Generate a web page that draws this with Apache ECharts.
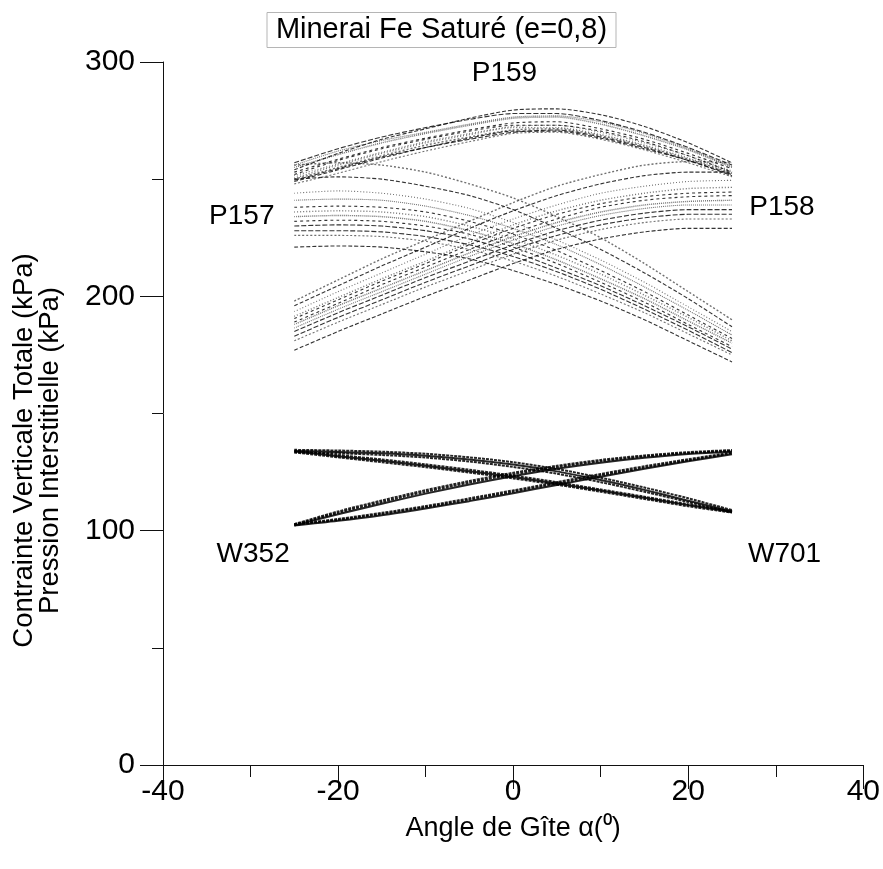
<!DOCTYPE html>
<html>
<head>
<meta charset="utf-8">
<script src="https://cdn.jsdelivr.net/npm/echarts@6/dist/echarts.min.js"></script>
<style>
html,body{margin:0;padding:0;background:#fff;}
#chart{width:883px;height:869px;}
</style>
</head>
<body>
<div id="chart"></div>
<script>
// ---- Data ----
const ANGLES = [-25, -20, -15, -10, -5, 0, 5, 10, 15, 20, 25];

// P159 : total vertical stress, top arch
const P159_A = [250, 255, 260, 264.5, 268, 271, 271.5, 268.5, 264, 258.5, 252.5];
const P159_B = [249, 254, 259, 263.5, 267.5, 270.5, 270.5, 267.5, 263, 258, 252];
const P159_C = [251.5, 256.5, 261.5, 266, 269.5, 272.5, 273, 270, 265.5, 260, 253.5];
const P159_D = [253, 258.5, 263.5, 267.5, 271, 274, 274.5, 271.5, 267, 261, 254.5];
const P159_E = [255, 260.5, 265.5, 269.5, 273, 276, 276.5, 273.5, 268.5, 262.5, 255];
const P159_F = [257, 263, 268, 272, 275.5, 278, 278, 275, 270, 263.5, 256];
const P159_G = [248, 252.5, 257.5, 262, 266, 269.5, 270, 267, 262.5, 257, 251];
const P159_H = [254, 261, 267, 271.5, 276, 279.5, 280, 277.5, 272.5, 265.5, 257];
const P159_I = [250.5, 256, 261, 265.5, 269, 272, 272, 269, 264.5, 259, 253];
const P159_J = [252, 258, 263, 267, 270.5, 273, 273, 270.5, 266, 260, 253];
const P159_K = [256, 262, 266.5, 270, 273.5, 276.5, 277, 274.5, 269.5, 263, 255.5];
const P159_L = [249.5, 254.5, 259.5, 263.5, 267, 270, 271, 268, 263.5, 258, 251.5];

// P157 : decreasing with angle
const P157_A = [256, 257, 256, 253, 248, 242, 234, 225, 214, 202, 190];
const P157_B = [250, 251, 250, 247, 243, 237, 229, 220, 210, 199, 187];
const P157_C = [244, 245, 244, 241.5, 237.5, 231.5, 224, 215.5, 206, 195.5, 185];
const P157_D = [238, 238.5, 238, 236, 232, 226.5, 219.5, 211, 202, 192, 182];
const P157_E = [234, 234.5, 234, 232, 228, 222.5, 215.5, 207.5, 199, 189.5, 180];
const P157_F = [230, 230.5, 230, 228, 224.5, 219, 212, 204.5, 196, 187, 177.5];
const P157_G = [226, 226, 225.5, 223.5, 220, 215, 208.5, 201, 193, 184, 175];
const P157_H = [221, 221.5, 221, 219, 216, 211, 205, 198, 190, 181, 172];
const P157_I = [236, 236.5, 236, 234, 230, 224.5, 217.5, 209.5, 200.5, 191, 181];
const P157_J = [232, 232.5, 232, 230, 226.5, 221, 214, 206, 197.5, 188, 178.5];
const P157_K = [241, 241.5, 241, 238.5, 234.5, 229, 222, 213.5, 204, 194, 183.5];
const P157_L = [228, 228, 227.5, 225.5, 222, 217, 210.5, 203, 194.5, 185.5, 176];

// P158 : increasing with angle
const P158_A = [198, 207, 216, 224, 232, 240, 247, 252, 256, 257.5, 257];
const P158_B = [196, 204.5, 213, 221, 229, 236.5, 243, 248, 251.5, 253, 253];
const P158_C = [193.5, 202, 210, 218, 226, 233, 239, 244, 247, 249, 249.5];
const P158_D = [190.5, 198.5, 206.5, 214, 222, 229, 235, 239.5, 242.5, 244, 244.5];
const P158_E = [188, 196, 203.5, 211, 218.5, 225.5, 231.5, 236, 239, 240.5, 241];
const P158_F = [185, 193, 200.5, 208, 215, 222, 228, 232.5, 235.5, 237, 237];
const P158_G = [181, 189, 196.5, 204, 211, 218, 224, 228.5, 231.5, 233, 233];
const P158_H = [177, 185, 192.5, 200, 207, 214, 220, 224.5, 227.5, 229, 229];
const P158_I = [191.5, 199.5, 207.5, 215, 223, 230.5, 236.5, 241, 244, 246, 246.5];
const P158_J = [189, 197, 205, 212.5, 220, 227, 233, 238, 241, 242.5, 243];
const P158_K = [186.5, 194.5, 202, 209.5, 217, 224, 230, 234.5, 237.5, 239, 239];
const P158_L = [183, 191, 198.5, 206, 213, 220, 226, 230.5, 233.5, 235, 235];

// W701 : pore pressure, decreasing (two branches)
const W701_A1 = [134.5, 134.2, 133.7, 132.8, 131.3, 129.2, 126.3, 122.6, 118.4, 113.8, 108.8];
const W701_A2 = [134, 133.6, 133, 132, 130.4, 128.2, 125.3, 121.6, 117.4, 112.8, 108.2];
const W701_A3 = [133.5, 133, 132.3, 131.2, 129.5, 127.2, 124.3, 120.7, 116.6, 112.2, 107.8];
const W701_B1 = [134.2, 132.3, 130.4, 128.3, 126, 123.5, 120.7, 117.6, 114.5, 111.3, 108.4];
const W701_B2 = [133.8, 131.8, 129.8, 127.7, 125.4, 122.9, 120.1, 117.1, 114, 110.9, 108];
const W701_B3 = [133.4, 131.3, 129.2, 127.1, 124.8, 122.3, 119.6, 116.6, 113.5, 110.4, 107.7];

// W352 : pore pressure, increasing (two branches)
const W352_C1 = [102.5, 104.6, 107.1, 110, 113.2, 116.6, 120.1, 123.6, 126.9, 130, 133];
const W352_C2 = [102.2, 104.2, 106.6, 109.5, 112.6, 116, 119.5, 123, 126.4, 129.6, 132.6];
const W352_C3 = [102.8, 105, 107.6, 110.5, 113.8, 117.2, 120.7, 124.2, 127.5, 130.5, 133.4];
const W352_D1 = [102.5, 107.6, 112.2, 116.6, 120.5, 124, 127.1, 129.6, 131.6, 133.1, 134];
const W352_D2 = [102.2, 107, 111.5, 115.8, 119.7, 123.2, 126.4, 129, 131.1, 132.7, 133.7];
const W352_D3 = [102.8, 108.2, 112.9, 117.3, 121.2, 124.7, 127.7, 130.2, 132.1, 133.5, 134.4];

// Curve-group labels (data coordinates)
const LABEL_NAMES = ['P159', 'P157', 'P158', 'W352', 'W701'];
const LABEL_X = [-1, -31, 30.7, -29.7, 31];
const LABEL_Y = [295, 234, 238, 90, 90];

const X_TICKS = [-40, -20, 0, 20, 40];
const Y_TICKS = [0, 100, 200, 300];

// ---- Build chart ----
const FONT = '"Liberation Sans", Arial, Helvetica, sans-serif';

const P_GROUPS = [
  [P159_A, P159_B, P159_C, P159_D, P159_E, P159_F, P159_G, P159_H, P159_I, P159_J, P159_K, P159_L],
  [P157_A, P157_B, P157_C, P157_D, P157_E, P157_F, P157_G, P157_H, P157_I, P157_J, P157_K, P157_L],
  [P158_A, P158_B, P158_C, P158_D, P158_E, P158_F, P158_G, P158_H, P158_I, P158_J, P158_K, P158_L]
];
const W_GROUPS = [
  [W701_A1, W701_A2, W701_A3, W701_B1, W701_B2, W701_B3],
  [W352_C1, W352_C2, W352_C3, W352_D1, W352_D2, W352_D3]
];

function pairs(ys) { return ys.map((y, i) => [ANGLES[i], y]); }

const DASHES = [[2, 2], [4, 2], [1, 2], [3, 3], [1, 1], [5, 2]];
const series = [];
P_GROUPS.forEach((group) => {
  group.forEach((ys, li) => {
    series.push({
      type: 'line', data: pairs(ys), symbol: 'none', smooth: 0.25,
      silent: true, animation: false,
      lineStyle: { color: '#111', width: (li % 4 === 0) ? 1.4 : 1.1,
        opacity: (li % 2 === 0) ? 0.6 : 0.85, type: DASHES[li % DASHES.length] }
    });
  });
});
W_GROUPS.forEach((group) => {
  group.forEach((ys, li) => {
    series.push({
      type: 'line', data: pairs(ys), symbol: 'none', smooth: 0.3,
      silent: true, animation: false,
      lineStyle: { color: '#000', width: 2, opacity: 0.85, type: (li % 3 === 1) ? 'solid' : [3, 1] }
    });
  });
});
series.push({
  type: 'scatter', symbolSize: 0, silent: true, animation: false,
  data: LABEL_NAMES.map((n, i) => ({ name: n, value: [LABEL_X[i], LABEL_Y[i]] })),
  label: { show: true, position: 'inside', formatter: p => p.name,
    fontFamily: FONT, fontSize: 28, color: '#000', textBorderWidth: 0, opacity: 1 }
});

const chart = echarts.init(document.getElementById('chart'), null, { renderer: 'canvas' });
chart.setOption({
  backgroundColor: '#fff',
  animation: false,
  title: {
    text: 'Minerai Fe Saturé (e=0,8)',
    left: 'center', top: 12,
    padding: [3, 9, 3, 9],
    borderColor: '#b5b5b5', borderWidth: 1,
    textStyle: { fontFamily: FONT, fontSize: 29, fontWeight: 'normal', color: '#000', lineHeight: 30 }
  },
  grid: { left: 163, right: 18, top: 62, bottom: 104, containLabel: false },
  xAxis: {
    type: 'value', min: X_TICKS[0], max: X_TICKS[X_TICKS.length - 1], interval: 20,
    name: 'Angle de Gîte α(⁰)', nameLocation: 'middle', nameGap: 50,
    nameTextStyle: { fontFamily: FONT, fontSize: 27, color: '#000' },
    axisLine: { show: true, onZero: false, lineStyle: { color: '#111', width: 1 } },
    axisTick: { show: true, inside: false, length: 24, lineStyle: { color: '#111' } },
    minorTick: { show: true, splitNumber: 2, length: 12, lineStyle: { color: '#111' } },
    splitLine: { show: false }, minorSplitLine: { show: false },
    axisLabel: { fontFamily: FONT, fontSize: 30, color: '#000', margin: 12 }
  },
  yAxis: {
    type: 'value', min: Y_TICKS[0], max: Y_TICKS[Y_TICKS.length - 1], interval: 100,
    name: 'Contrainte Verticale Totale (kPa)\nPression Interstitielle (kPa)',
    nameLocation: 'middle', nameRotate: 90, nameGap: 100,
    nameTextStyle: { fontFamily: FONT, fontSize: 27.5, color: '#000', lineHeight: 26,
      align: 'center', padding: [0, 74, 0, 0] },
    axisLine: { show: true, onZero: false, lineStyle: { color: '#111', width: 1 } },
    axisTick: { show: true, inside: false, length: 23, lineStyle: { color: '#111' } },
    minorTick: { show: true, splitNumber: 2, length: 11, lineStyle: { color: '#111' } },
    splitLine: { show: false }, minorSplitLine: { show: false },
    axisLabel: { fontFamily: FONT, fontSize: 30, color: '#000', margin: 28 }
  },
  series: series
});
</script>
</body>
</html>
